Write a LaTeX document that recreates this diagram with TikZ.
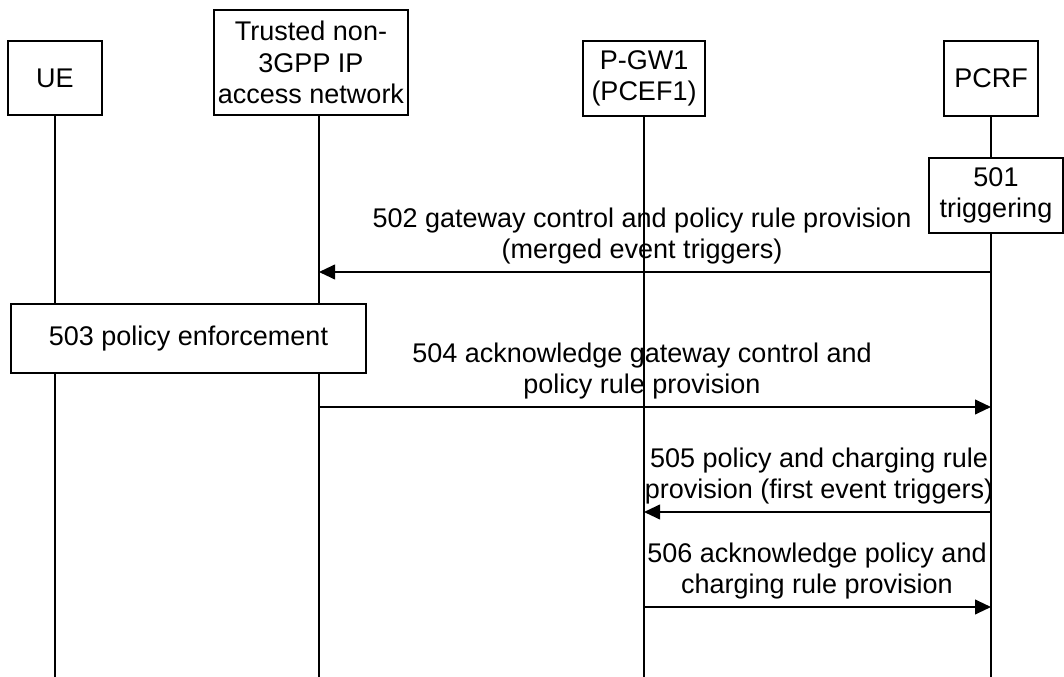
\documentclass[tikz,border=0pt]{standalone}
\usepackage{fontspec}
\setmainfont{Liberation Sans}
\usetikzlibrary{arrows.meta}
\begin{document}
\begin{tikzpicture}[x=0.75pt,y=-0.75pt,
  every node/.style={font=\fontsize{20.25}{23.6}\selectfont},
  entity/.style={draw, line width=1.5pt, fill=white, inner sep=0pt, align=center},
  life/.style={line width=1.5pt},
  msg/.style={line width=1.5pt, -{Triangle[length=12pt,width=11pt]}},
  lbl/.style={align=center, inner sep=0pt}]
\useasboundingbox (0,0) rectangle (1064,677);

% lifeline end points
\coordinate (ueB) at (55,677);
\coordinate (tnT) at (319,115);
\coordinate (tnB) at (319,677);
\coordinate (pgwB) at (644,677);
\coordinate (pcrfB) at (991,677);

% entities
\node[entity, minimum width=70.5pt, minimum height=55.5pt] (ue) at (55,78) {UE};
\node[entity, minimum width=145.5pt, minimum height=78.75pt] (tn) at (311,62.5) {Trusted non-\\3GPP IP\\access network};
\node[entity, minimum width=91.5pt, minimum height=56.25pt] (pgw) at (644,78.5) {P-GW1\\(PCEF1)};
\node[entity, minimum width=70.5pt, minimum height=56.25pt] (pcrf) at (991,78.5) {PCRF};

% local actions
\node[entity, minimum width=100.5pt, minimum height=56.25pt] (trig) at (996,195.5) {501\\triggering};
\node[entity, minimum width=266.25pt, minimum height=51.75pt] (enf) at (188.5,338.5) {503 policy enforcement};

% lifelines
\draw[life] (ue.south) -- (ue.south |- enf.north);
\draw[life] (ue.south |- enf.south) -- (ueB);
\draw[life] (tnT) -- (tnT |- enf.north);
\draw[life] (tnT |- enf.south) -- (tnB);
\draw[life] (pgw.south) -- (pgwB);
\draw[life] (pcrf.south) -- (pcrf.south |- trig.north);
\draw[life] (pcrf.south |- trig.south) -- (pcrfB);

% messages
\draw[msg] (pcrfB |- 0,272) -- (tnB |- 0,272);
\draw[msg] (tnB |- 0,407) -- (pcrfB |- 0,407);
\draw[msg] (pcrfB |- 0,512) -- (pgwB |- 0,512);
\draw[msg] (pgwB |- 0,607) -- (pcrfB |- 0,607);

% labels
\node[lbl] (l502) at (642,236) {502 gateway control and policy rule provision\\(merged event triggers)};
\node[lbl] (l504) at (642,371) {504 acknowledge gateway control and\\policy rule provision};
\node[lbl] (l505) at (819,476) {505 policy and charging rule\\provision (first event triggers)};
\node[lbl] (l506) at (817,571) {506 acknowledge policy and\\charging rule provision};
\end{tikzpicture}
\end{document}
